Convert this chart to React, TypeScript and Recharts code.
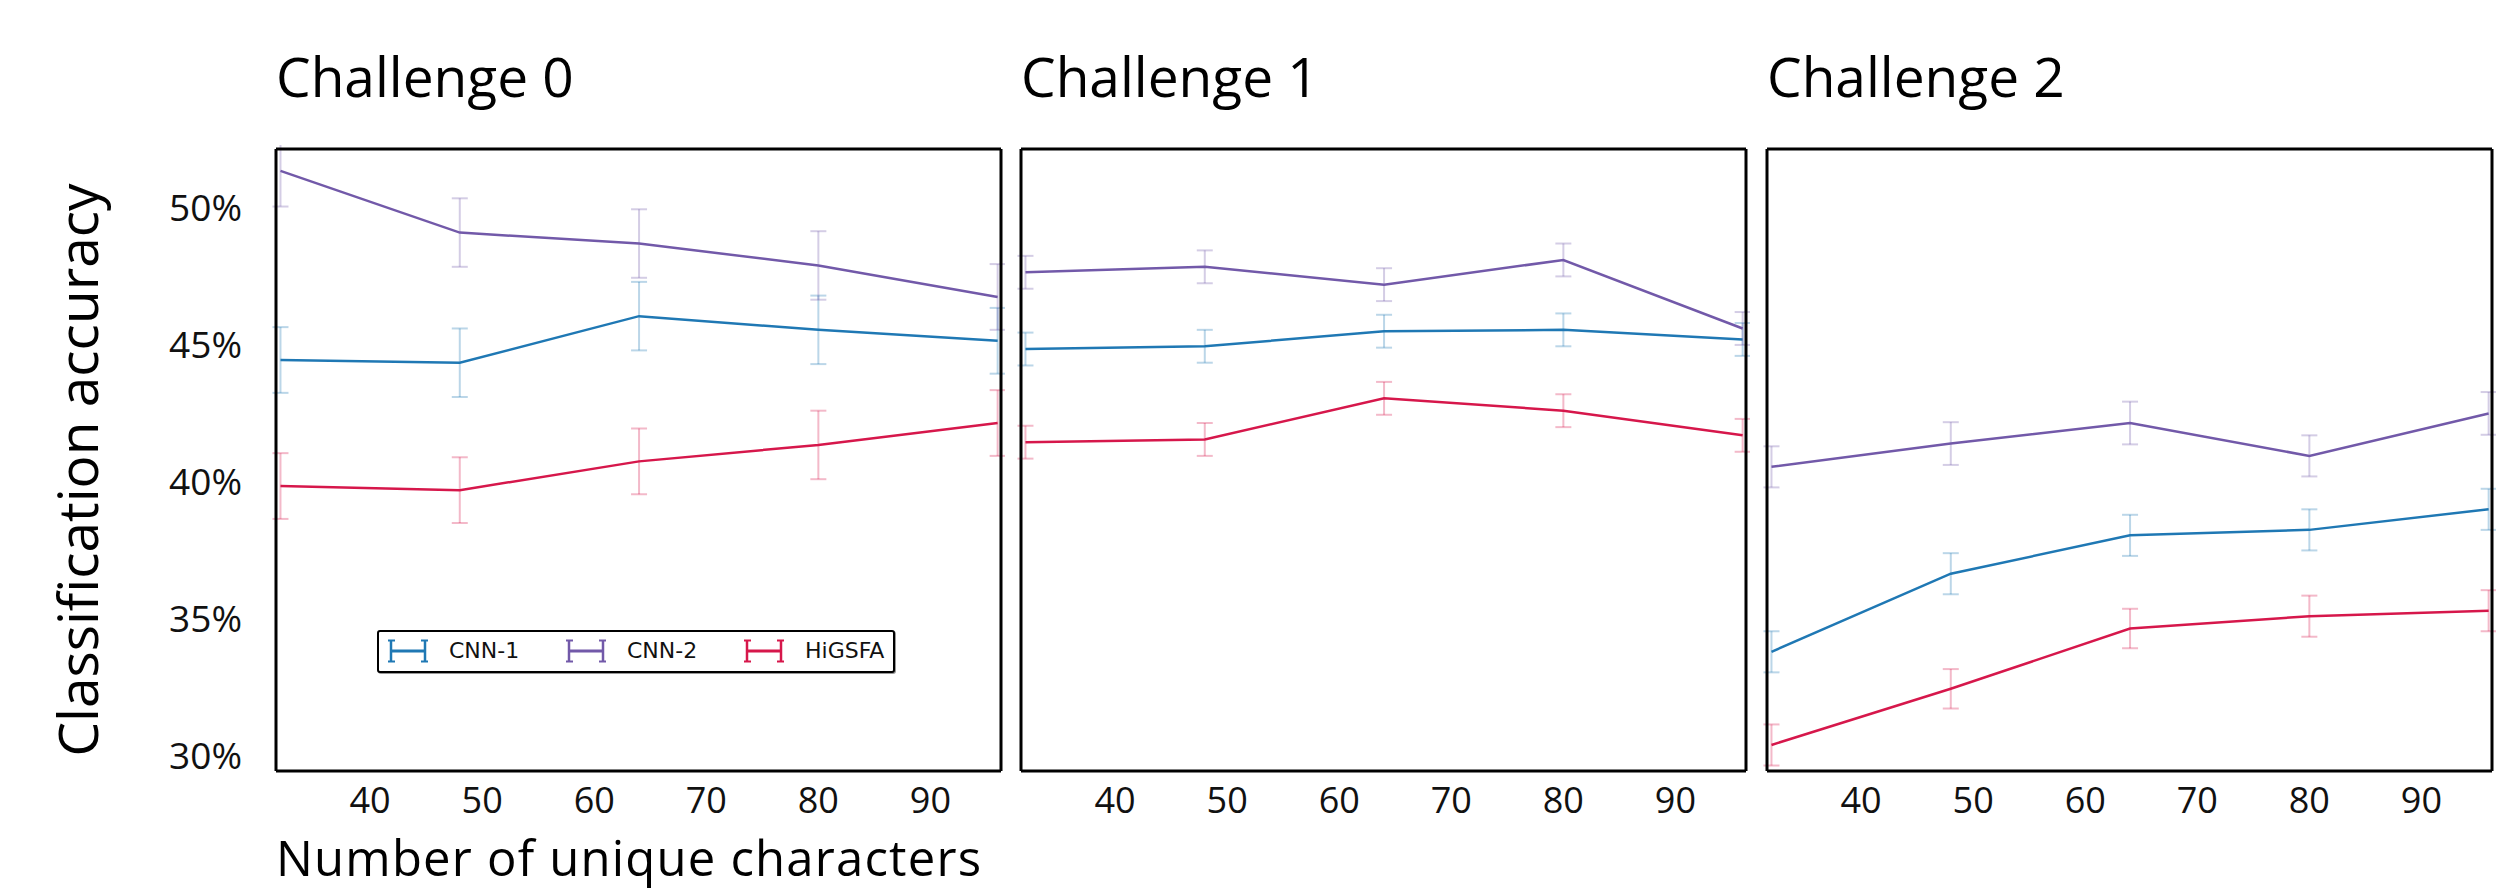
import { CartesianGrid, ErrorBar, Legend, Line, LineChart, XAxis, YAxis } from 'recharts';

// number of unique characters (x positions shared by all panels)
const uniqueChars = [32, 48, 64, 80, 96];
const xTicks = [40, 50, 60, 70, 80, 90];
const yTicks = [30, 35, 40, 45, 50];
const panelTitles = ['Challenge 0', 'Challenge 1', 'Challenge 2'];
const seriesNames = ['CNN-1', 'CNN-2', 'HiGSFA'];

// Challenge 0
const c0Cnn1 = [44.3, 44.2, 45.9, 45.4, 45.0];
const c0Cnn2 = [51.2, 48.95, 48.55, 47.75, 46.6];
const c0Hig = [39.7, 39.55, 40.6, 41.2, 42.0];
const c0Cnn1Err = [1.2, 1.25, 1.25, 1.25, 1.2];
const c0Cnn2Err = [1.3, 1.25, 1.25, 1.25, 1.2];
const c0HigErr = [1.2, 1.2, 1.2, 1.25, 1.2];

// Challenge 1
const c1Cnn1 = [44.7, 44.8, 45.35, 45.4, 45.05];
const c1Cnn2 = [47.5, 47.7, 47.05, 47.95, 45.45];
const c1Hig = [41.3, 41.4, 42.9, 42.45, 41.55];
const c1Cnn1Err = [0.6, 0.6, 0.6, 0.6, 0.6];
const c1Cnn2Err = [0.6, 0.6, 0.6, 0.6, 0.6];
const c1HigErr = [0.6, 0.6, 0.6, 0.6, 0.6];

// Challenge 2
const c2Cnn1 = [33.65, 36.5, 37.9, 38.1, 38.85];
const c2Cnn2 = [40.4, 41.25, 42.0, 40.8, 42.35];
const c2Hig = [30.25, 32.3, 34.5, 34.95, 35.15];
const c2Cnn1Err = [0.75, 0.75, 0.75, 0.75, 0.75];
const c2Cnn2Err = [0.75, 0.78, 0.78, 0.75, 0.78];
const c2HigErr = [0.75, 0.72, 0.72, 0.75, 0.75];

const COLORS = ['#1f78b4', '#7259a9', '#d6174b'];
const FONT = '"Open Sans", sans-serif';

const buildRows = (a: number[], b: number[], c: number[], ae: number[], be: number[], ce: number[]) =>
  uniqueChars.map((x, i) => ({ x, cnn1: a[i], cnn2: b[i], hig: c[i], cnn1Err: ae[i], cnn2Err: be[i], higErr: ce[i] }));

const panels = [
  buildRows(c0Cnn1, c0Cnn2, c0Hig, c0Cnn1Err, c0Cnn2Err, c0HigErr),
  buildRows(c1Cnn1, c1Cnn2, c1Hig, c1Cnn1Err, c1Cnn2Err, c1HigErr),
  buildRows(c2Cnn1, c2Cnn2, c2Hig, c2Cnn1Err, c2Cnn2Err, c2HigErr),
];

const PLOT_W = 725;
const PLOT_H = 622;
const PLOT_TOP = 149;
const PLOT_LEFTS = [276, 1021, 1767];
const PAD = 4;
const X_LABEL_H = 60;

const LegendIcon = ({ color }: { color: string }) => (
  <svg width={40} height={24} style={{ display: 'block' }}>
    <line x1={3} x2={3} y1={1} y2={23} stroke={color} strokeWidth={2.5} />
    <line x1={37} x2={37} y1={1} y2={23} stroke={color} strokeWidth={2.5} />
    <line x1={0} x2={7} y1={1.5} y2={1.5} stroke={color} strokeWidth={2} />
    <line x1={0} x2={7} y1={22.5} y2={22.5} stroke={color} strokeWidth={2} />
    <line x1={33} x2={40} y1={1.5} y2={1.5} stroke={color} strokeWidth={2} />
    <line x1={33} x2={40} y1={22.5} y2={22.5} stroke={color} strokeWidth={2} />
    <line x1={3} x2={37} y1={12} y2={12} stroke={color} strokeWidth={3} />
  </svg>
);

const LegendBox = () => (
  <div
    style={{
      width: 514,
      height: 39,
      border: '2px solid #000',
      borderRadius: 3,
      background: '#fff',
      position: 'relative',
      fontFamily: '"DejaVu Sans", sans-serif',
      fontSize: 22,
      boxShadow: '1px 1px 0 #999',
    }}
  >
    {seriesNames.map((name, i) => (
      <div key={name} style={{ position: 'absolute', left: 9 + i * 178, top: 7, display: 'flex', alignItems: 'center' }}>
        <LegendIcon color={COLORS[i]} />
        <span style={{ marginLeft: 21, lineHeight: '24px', color: '#111' }}>{name}</span>
      </div>
    ))}
  </div>
);

const Panel = ({ idx }: { idx: number }) => {
  const data = panels[idx];
  const first = idx === 0;
  const leftSpace = first ? PLOT_LEFTS[0] : PAD;
  const chartLeft = PLOT_LEFTS[idx] - leftSpace;
  const width = leftSpace + PLOT_W + PAD;
  const height = PAD + PLOT_H + X_LABEL_H;
  const keys: Array<[string, string]> = [['cnn1', 'cnn1Err'], ['cnn2', 'cnn2Err'], ['hig', 'higErr']];
  const tickStyle = { fill: '#111', fontSize: 36, fontFamily: FONT };

  return (
    <div style={{ position: 'absolute', left: chartLeft, top: PLOT_TOP - PAD }}>
      <LineChart width={width} height={height} data={data} margin={{ top: PAD, right: PAD, bottom: 0, left: first ? 0 : PAD }}>
        <CartesianGrid stroke="none" />
        {/* tick labels */}
        <XAxis
          xAxisId="lab"
          dataKey="x"
          type="number"
          domain={[31.6, 96.3]}
          allowDataOverflow
          ticks={xTicks}
          height={X_LABEL_H}
          tickLine={false}
          axisLine={false}
          tickSize={0}
          tickMargin={16}
          tick={tickStyle}
        />
        {/* boxed frame with inward ticks */}
        <XAxis
          xAxisId="x"
          dataKey="x"
          type="number"
          domain={[31.6, 96.3]}
          allowDataOverflow
          ticks={xTicks}
          mirror
          tick={false}
          tickSize={9}
          height={1}
          axisLine={{ stroke: '#000', strokeWidth: 3 }}
          tickLine={{ stroke: '#222', strokeWidth: 1.5 }}
        />
        <XAxis
          xAxisId="top"
          dataKey="x"
          type="number"
          orientation="top"
          domain={[31.6, 96.3]}
          allowDataOverflow
          ticks={xTicks}
          mirror
          tick={false}
          tickSize={9}
          height={1}
          axisLine={{ stroke: '#000', strokeWidth: 3 }}
          tickLine={{ stroke: '#222', strokeWidth: 1.5 }}
        />
        {first && (
          <YAxis
            yAxisId="lab"
            type="number"
            domain={[29.3, 52]}
            allowDataOverflow
            ticks={yTicks}
            width={PLOT_LEFTS[0]}
            tickLine={false}
            axisLine={false}
            tickSize={0}
            tickMargin={34}
            tickFormatter={(v: number) => `${v}%`}
            tick={{ ...tickStyle, fontSize: 37, dy: 4 }}
          />
        )}
        <YAxis
          yAxisId="y"
          type="number"
          domain={[29.3, 52]}
          allowDataOverflow
          ticks={yTicks}
          mirror
          tick={false}
          tickSize={9}
          width={1}
          axisLine={{ stroke: '#000', strokeWidth: 3 }}
          tickLine={{ stroke: '#222', strokeWidth: 1.5 }}
        />
        <YAxis
          yAxisId="right"
          type="number"
          orientation="right"
          domain={[29.3, 52]}
          allowDataOverflow
          ticks={yTicks}
          mirror
          tick={false}
          tickSize={9}
          width={1}
          axisLine={{ stroke: '#000', strokeWidth: 3 }}
          tickLine={{ stroke: '#222', strokeWidth: 1.5 }}
        />
        {keys.map(([k, e], i) => (
          <Line
            key={k}
            xAxisId="x"
            yAxisId="y"
            dataKey={k}
            name={seriesNames[i]}
            stroke={COLORS[i]}
            strokeWidth={2.5}
            dot={false}
            activeDot={false}
            isAnimationActive={false}
          >
            <ErrorBar dataKey={e} direction="y" width={8} stroke={COLORS[i]} strokeWidth={2} strokeOpacity={0.3} isAnimationActive={false} />
          </Line>
        ))}
        {first && (
          <Legend
            layout="horizontal"
            verticalAlign="middle"
            align="center"
            content={() => <LegendBox />}
            wrapperStyle={{ left: 377, top: 630 - (PLOT_TOP - PAD), width: 518, height: 43 }}
          />
        )}
      </LineChart>
    </div>
  );
};

export default function App() {
  return (
    <div style={{ position: 'relative', width: 2516, height: 891, overflow: 'hidden', background: '#fff' }}>
      <style>{'body{margin:0}'}</style>
      {panels.map((_, i) => (
        <Panel key={i} idx={i} />
      ))}
      <svg width={2516} height={891} style={{ position: 'absolute', left: 0, top: 0, pointerEvents: 'none' }}>
        {panelTitles.map((t, i) => (
          <text key={t} x={PLOT_LEFTS[i]} y={97} fontFamily={FONT} fontSize={55} fill="#000">
            {t}
          </text>
        ))}
        <text x={98} y={470} transform="rotate(-90 98 470)" textAnchor="middle" fontFamily={FONT} fontSize={55} fill="#000">
          Classification accuracy
        </text>
        <text x={PLOT_LEFTS[0]} y={876} fontFamily={FONT} fontSize={49} letterSpacing={1.2} fill="#000">
          Number of unique characters
        </text>
      </svg>
    </div>
  );
}
